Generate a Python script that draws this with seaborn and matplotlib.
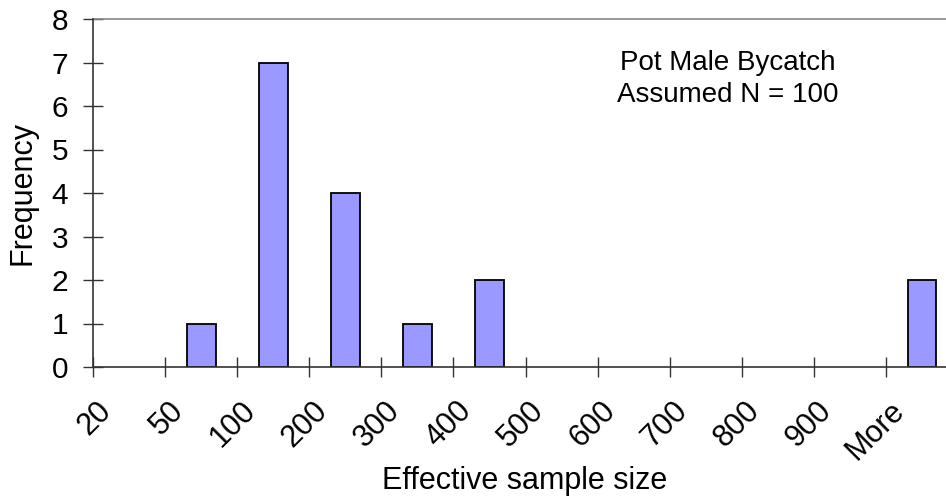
import matplotlib
matplotlib.use("Agg")
import matplotlib.pyplot as plt
import seaborn as sns
import pandas as pd

categories = ["20", "50", "100", "200", "300", "400", "500", "600", "700", "800", "900", "More"]
frequency = [0, 1, 7, 4, 1, 2, 0, 0, 0, 0, 0, 2]
y_ticks = [0, 1, 2, 3, 4, 5, 6, 7, 8]
annotation = "Pot Male Bycatch\nAssumed N = 100"

sns.set_style("white")
plt.rcParams['font.family'] = ['Liberation Sans', 'DejaVu Sans']
plt.rcParams['text.color'] = 'black'
plt.rcParams['axes.labelcolor'] = 'black'
plt.rcParams['xtick.color'] = 'black'
plt.rcParams['ytick.color'] = 'black'

fig = plt.figure(figsize=(9.46, 5.0), dpi=100)
ax = fig.add_axes([93/946, 133/500, 865/946, 348/500])

df = pd.DataFrame({"cat": categories, "freq": frequency})
sns.barplot(data=df, x="cat", y="freq", order=categories, color="#9999FF",
            saturation=1, width=0.4, edgecolor="black", linewidth=1.3, ax=ax)
# hide outlines of zero-height bars
for patch, v in zip(ax.patches, frequency):
    if v == 0:
        patch.set_visible(False)

n = len(categories)
ax.set_xlim(-0.5, n - 0.5)
ax.set_ylim(0, 8)
ax.set_yticks(y_ticks)
ax.set_yticklabels([str(v) for v in y_ticks], fontsize=21.5, color="black")

# tick marks at category boundaries, labels offset
ax.set_xticks([i - 0.5 for i in range(n)])
ax.set_xticklabels([""] * n)
ax.set_xticks([i - 0.31 for i in range(n)], minor=True)
ax.set_xticklabels(categories, minor=True, rotation=45, ha="right", va="center",
                   rotation_mode="anchor", fontsize=22, color="black")
ax.tick_params(axis="x", which="major", bottom=True, direction="inout", length=14,
               width=1, color="#333333")
ax.tick_params(axis="x", which="minor", bottom=True, length=0, pad=28)
ax.tick_params(axis="y", left=True, direction="inout", length=14, width=1,
               color="#333333", pad=11)

for s in ["top", "right"]:
    ax.spines[s].set_visible(False)
for s in ["left", "bottom"]:
    ax.spines[s].set_color("#333333")
    ax.spines[s].set_linewidth(1.2)
ax.axhline(8, color="#888888", linewidth=1.2, clip_on=False)

ax.set_xlabel("Effective sample size", fontsize=22, color="black")
ax.set_ylabel("Frequency", fontsize=22, color="black")
ax.xaxis.set_label_coords(525/946, 19/500, transform=fig.transFigure)
ax.xaxis.label.set_va("center")
ax.yaxis.set_label_coords(22/946, 307/500, transform=fig.transFigure)
ax.yaxis.label.set_va("center")

fig.text(728/946, 1 - 79/500, annotation, fontsize=20, ha="center", va="center",
         linespacing=1.35, color="black")

fig.savefig("out.png", dpi=100)
